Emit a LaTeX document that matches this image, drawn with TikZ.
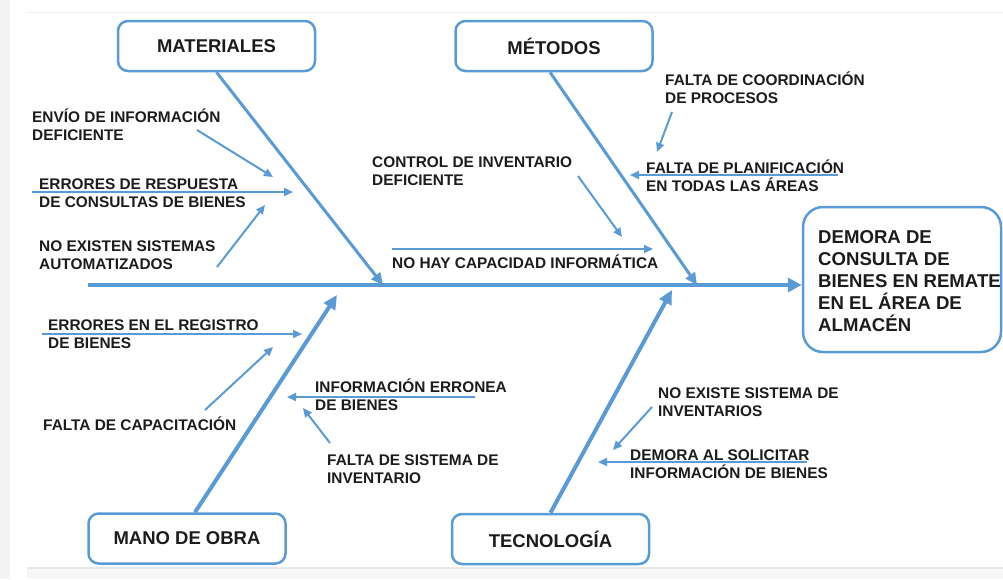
\documentclass[tikz,border=0pt]{standalone}
\usepackage{fontspec}
\setmainfont{Liberation Sans}
\usetikzlibrary{arrows.meta}
\definecolor{fb}{RGB}{91,155,213}
\definecolor{tx}{RGB}{28,28,28}
\begin{document}
\begin{tikzpicture}[x=1pt,y=-1pt,
 catbox/.style={draw=fb,line width=2.5pt,rounded corners=10pt,fill=white,minimum width=197pt,minimum height=50pt,font=\fontsize{18.5}{22}\selectfont\bfseries,text=tx,inner sep=0pt},
 lbl/.style={anchor=base west,align=left,inner sep=0pt,font=\fontsize{15.4}{18}\selectfont\bfseries,text=tx},
 spine/.style={draw=fb,line width=4pt,-{Triangle[length=14pt,width=14pt]}},
 bone/.style={draw=fb,line width=3pt,-{Triangle[length=12pt,width=11pt]}},
 bbone/.style={draw=fb,line width=4pt,-{Triangle[length=14pt,width=13pt]}},
 subarr/.style={draw=fb,line width=2pt,-{Triangle[length=9pt,width=8pt]}}
]
% background
\useasboundingbox (0,0) rectangle (1003,579);
\fill[white] (0,0) rectangle (1003,579);
\fill[gray!9] (0,0) rectangle (10,579);
\draw[gray!12,line width=1pt] (27,12) -- (1003,12);
\fill[gray!6] (27,567) rectangle (1003,579);
\draw[gray!18,line width=1.5pt] (27,568) -- (1003,568);

% category boxes
\node[catbox] (mat) at (216.5,46) {MATERIALES};
\node[catbox] (met) at (554,46) {MÉTODOS};
\node[catbox] (mob) at (187,538.5) {MANO DE OBRA};
\node[catbox] (tec) at (550.5,539) {TECNOLOGÍA};

% effect box
\node[draw=fb,line width=2.5pt,rounded corners=20pt,fill=white,minimum width=198pt,minimum height=145pt]
 (res) at (902,279.5) {};
\node[anchor=base west,align=left,inner sep=0pt,font=\fontsize{18.6}{22}\selectfont\bfseries,text=tx]
 (restxt) at (818,331) {DEMORA DE\\CONSULTA DE\\BIENES EN REMATE\\EN EL ÁREA DE\\ALMACÉN};

% spine
\coordinate (sp0) at (88,285);
\draw[spine] (sp0) -- (res.west |- sp0);

% bones
\coordinate (mEnd) at (383,285);
\coordinate (tEnd) at (697,285);
\coordinate (oEnd) at (337,295);
\coordinate (gEnd) at (672,290);
\draw[bone] (mat.south) -- (mEnd);
\draw[bone] ([xshift=-4pt]met.south) -- (tEnd);
\draw[bbone] ([xshift=8pt]mob.north) -- (oEnd);
\draw[bbone] (tec.north) -- (gEnd);

% labels (anchor = baseline of last line)
\node[lbl] (l1) at (32,140) {ENVÍO DE INFORMACIÓN\\DEFICIENTE};
\node[lbl] (l2) at (39,207) {ERRORES DE RESPUESTA\\DE CONSULTAS DE BIENES};
\node[lbl] (l3) at (39,269) {NO EXISTEN SISTEMAS\\AUTOMATIZADOS};
\node[lbl] (l4) at (372,185) {CONTROL DE INVENTARIO\\DEFICIENTE};
\node[lbl] (l5) at (392,268) {NO HAY CAPACIDAD INFORMÁTICA};
\node[lbl] (l6) at (665,103) {FALTA DE COORDINACIÓN\\DE PROCESOS};
\node[lbl] (l7) at (646,191) {FALTA DE PLANIFICACIÓN\\EN TODAS LAS ÁREAS};
\node[lbl] (m1) at (48,348) {ERRORES EN EL REGISTRO\\DE BIENES};
\node[lbl] (m2) at (43,430) {FALTA DE CAPACITACIÓN};
\node[lbl] (m3) at (315,410) {INFORMACIÓN ERRONEA\\DE BIENES};
\node[lbl] (m4) at (327,483) {FALTA DE SISTEMA DE\\INVENTARIO};
\node[lbl] (m5) at (658,416) {NO EXISTE SISTEMA DE\\INVENTARIOS};
\node[lbl] (m6) at (630,478) {DEMORA AL SOLICITAR\\INFORMACIÓN DE BIENES};

% sub-cause arrows
\coordinate (a1s) at (197,130); \coordinate (a1e) at (273,177);
\coordinate (a2s) at (32,192);  \coordinate (a2e) at (293,192);
\coordinate (a3s) at (217,267); \coordinate (a3e) at (265,205);
\coordinate (a4s) at (578,176); \coordinate (a4e) at (622,237);
\coordinate (a5s) at (392,249); \coordinate (a5e) at (653,249);
\coordinate (a6s) at (672,112); \coordinate (a6e) at (657,152);
\coordinate (a7s) at (838,175); \coordinate (a7e) at (630,175);
\coordinate (b1s) at (42,334);  \coordinate (b1e) at (302,334);
\coordinate (b2s) at (205,410); \coordinate (b2e) at (273,347);
\coordinate (b3s) at (475,397); \coordinate (b3e) at (287,397);
\coordinate (b4s) at (330,443); \coordinate (b4e) at (303,408);
\coordinate (b5s) at (652,407); \coordinate (b5e) at (613,450);
\coordinate (b6s) at (807,462); \coordinate (b6e) at (598,462);
\foreach \p in {a1,a2,a3,a4,a5,a6,a7,b1,b2,b3,b4,b5,b6}
  \draw[subarr] (\p s) -- (\p e);
\end{tikzpicture}
\end{document}
